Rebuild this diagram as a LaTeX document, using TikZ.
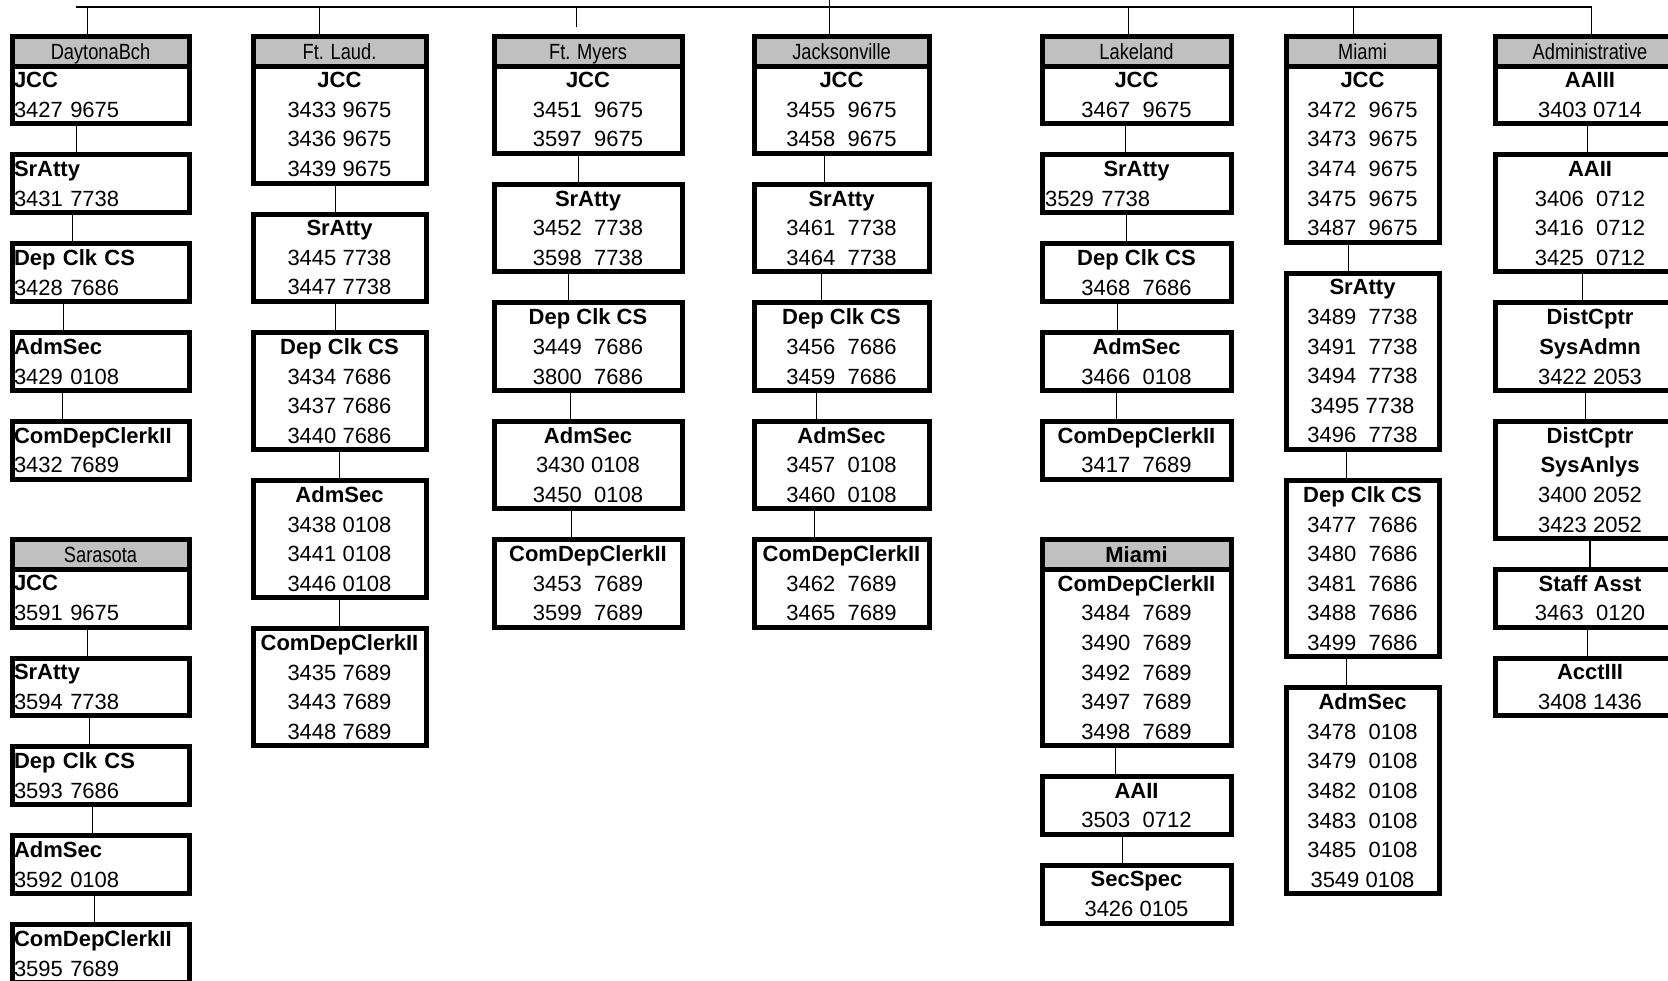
\documentclass[tikz,border=0pt]{standalone}
\usepackage{fontspec}
\setmainfont{Liberation Sans}
\newfontfamily\narrowfont{Liberation Sans}[FakeStretch=0.83]
\usetikzlibrary{positioning,calc}
\definecolor{headgray}{HTML}{C0C0C0}

\begin{document}
\begin{tikzpicture}[
  x=0.5pt, y=-0.5pt,
  font=\fontsize{11pt}{14.8pt}\selectfont,
  cell/.style={draw=black, line width=2.5pt, fill=white, anchor=north west, inner sep=0pt, align=center},
  cellL/.style={cell, inner xsep=1pt, text width=86.5pt, align=left},
  head/.style={draw=black, line width=2.5pt, fill=headgray, anchor=north west, inner sep=0pt,
    minimum height=14.8pt, text height=7.9pt, text depth=0pt,
    font=\narrowfont\fontsize{11pt}{14.8pt}\selectfont},
  headB/.style={head, font=\fontsize{11pt}{14.8pt}\selectfont\bfseries},
  nrows/.style={minimum height={14.8pt*#1-0.75pt}},
  link/.style={draw=black, line width=0.6pt},
  wDay/.style={minimum width=88.5pt},
  wLau/.style={minimum width=86.5pt},
  wMye/.style={minimum width=94pt},
  wJax/.style={minimum width=87.5pt},
  wLak/.style={minimum width=94.5pt},
  wMia/.style={minimum width=76.5pt},
  wAdm/.style={minimum width=95pt},
]
\useasboundingbox (0,0) rectangle (1668,980);
\clip (0,0) rectangle (1668,980);

% DaytonaBch and Sarasota (left aligned)
\node[head, wDay] (hDay) at (9.5,34) {DaytonaBch};
\node[cellL, nrows=2] (dayJcc) at (9.5,63.6) {\textbf{JCC}\\3427 9675};
\node[cellL, nrows=2] (daySr) at (9.5,152.4) {\textbf{SrAtty}\\3431 7738};
\node[cellL, nrows=2] (dayDep) at (9.5,241.2) {\textbf{Dep Clk CS}\\3428 7686};
\node[cellL, nrows=2] (dayAdm) at (9.5,330) {\textbf{AdmSec}\\3429 0108};
\node[cellL, nrows=2] (dayCom) at (9.5,418.8) {\textbf{ComDepClerkII}\\3432 7689};
\node[head, wDay] (hSar) at (9.5,537.2) {Sarasota};
\node[cellL, nrows=2] (sarJcc) at (9.5,566.8) {\textbf{JCC}\\3591 9675};
\node[cellL, nrows=2] (sarSr) at (9.5,655.6) {\textbf{SrAtty}\\3594 7738};
\node[cellL, nrows=2] (sarDep) at (9.5,744.4) {\textbf{Dep Clk CS}\\3593 7686};
\node[cellL, nrows=2] (sarAdm) at (9.5,833.2) {\textbf{AdmSec}\\3592 0108};
\node[cellL, nrows=2] (sarCom) at (9.5,922) {\textbf{ComDepClerkII}\\3595 7689};

% Ft. Laud.
\node[head, wLau] (hLau) at (250.5,34) {Ft. Laud.};
\node[cell, wLau, nrows=4] (lauJcc) at (250.5,63.6) {\textbf{JCC}\\3433 9675\\3436 9675\\3439 9675};
\node[cell, wLau, nrows=3] (lauSr) at (250.5,211.6) {\textbf{SrAtty}\\3445 7738\\3447 7738};
\node[cell, wLau, nrows=4] (lauDep) at (250.5,330) {\textbf{Dep Clk CS}\\3434 7686\\3437 7686\\3440 7686};
\node[cell, wLau, nrows=4] (lauAdm) at (250.5,478) {\textbf{AdmSec}\\3438 0108\\3441 0108\\3446 0108};
\node[cell, wLau, nrows=4] (lauCom) at (250.5,626) {\textbf{ComDepClerkII}\\3435 7689\\3443 7689\\3448 7689};

% Ft. Myers
\node[head, wMye] (hMye) at (491.5,34) {Ft. Myers};
\node[cell, wMye, nrows=3] (myeJcc) at (491.5,63.6) {\textbf{JCC}\\3451~~9675\\3597~~9675};
\node[cell, wMye, nrows=3] (myeSr) at (491.5,182) {\textbf{SrAtty}\\3452~~7738\\3598~~7738};
\node[cell, wMye, nrows=3] (myeDep) at (491.5,300.4) {\textbf{Dep Clk CS}\\3449~~7686\\3800~~7686};
\node[cell, wMye, nrows=3] (myeAdm) at (491.5,418.8) {\textbf{AdmSec}\\3430 0108\\3450~~0108};
\node[cell, wMye, nrows=3] (myeCom) at (491.5,537.2) {\textbf{ComDepClerkII}\\3453~~7689\\3599~~7689};

% Jacksonville
\node[head, wJax] (hJax) at (751.5,34) {Jacksonville};
\node[cell, wJax, nrows=3] (jaxJcc) at (751.5,63.6) {\textbf{JCC}\\3455~~9675\\3458~~9675};
\node[cell, wJax, nrows=3] (jaxSr) at (751.5,182) {\textbf{SrAtty}\\3461~~7738\\3464~~7738};
\node[cell, wJax, nrows=3] (jaxDep) at (751.5,300.4) {\textbf{Dep Clk CS}\\3456~~7686\\3459~~7686};
\node[cell, wJax, nrows=3] (jaxAdm) at (751.5,418.8) {\textbf{AdmSec}\\3457~~0108\\3460~~0108};
\node[cell, wJax, nrows=3] (jaxCom) at (751.5,537.2) {\textbf{ComDepClerkII}\\3462~~7689\\3465~~7689};

% Lakeland, with the Miami clerks below
\node[head, wLak] (hLak) at (1039.5,34) {Lakeland};
\node[cell, wLak, nrows=2] (lakJcc) at (1039.5,63.6) {\textbf{JCC}\\3467~~9675};
\node[cell, wLak, nrows=2, inner xsep=1.5pt, text width=91.5pt] (lakSr) at (1039.5,152.4)
  {\textbf{SrAtty}\\\makebox[91.5pt][l]{3529 7738}};
\node[cell, wLak, nrows=2] (lakDep) at (1039.5,241.2) {\textbf{Dep Clk CS}\\3468~~7686};
\node[cell, wLak, nrows=2] (lakAdm) at (1039.5,330) {\textbf{AdmSec}\\3466~~0108};
\node[cell, wLak, nrows=2] (lakCom) at (1039.5,418.8) {\textbf{ComDepClerkII}\\3417~~7689};
\node[headB, wLak] (hLkm) at (1039.5,537.2) {Miami};
\node[cell, wLak, nrows=6] (lkmCom) at (1039.5,566.8)
  {\textbf{ComDepClerkII}\\3484~~7689\\3490~~7689\\3492~~7689\\3497~~7689\\3498~~7689};
\node[cell, wLak, nrows=2] (lkmAa) at (1039.5,774) {\textbf{AAII}\\3503~~0712};
\node[cell, wLak, nrows=2] (lkmSec) at (1039.5,862.8) {\textbf{SecSpec}\\3426 0105};

% Miami
\node[head, wMia] (hMia) at (1283.5,34) {Miami};
\node[cell, wMia, nrows=6] (miaJcc) at (1283.5,63.6)
  {\textbf{JCC}\\3472~~9675\\3473~~9675\\3474~~9675\\3475~~9675\\3487~~9675};
\node[cell, wMia, nrows=6] (miaSr) at (1283.5,270.8)
  {\textbf{SrAtty}\\3489~~7738\\3491~~7738\\3494~~7738\\3495 7738\\3496~~7738};
\node[cell, wMia, nrows=6] (miaDep) at (1283.5,478)
  {\textbf{Dep Clk CS}\\3477~~7686\\3480~~7686\\3481~~7686\\3488~~7686\\3499~~7686};
\node[cell, wMia, nrows=7] (miaAdm) at (1283.5,685.2)
  {\textbf{AdmSec}\\3478~~0108\\3479~~0108\\3482~~0108\\3483~~0108\\3485~~0108\\3549 0108};

% Administrative
\node[head, wAdm] (hAdm) at (1492.5,34) {Administrative};
\node[cell, wAdm, nrows=2] (admA3) at (1492.5,63.6) {\textbf{AAIII}\\3403 0714};
\node[cell, wAdm, nrows=4] (admA2) at (1492.5,152.4) {\textbf{AAII}\\3406~~0712\\3416~~0712\\3425~~0712};
\node[cell, wAdm, nrows=3] (admSys) at (1492.5,300.4) {\textbf{DistCptr}\\\textbf{SysAdmn}\\3422 2053};
\node[cell, wAdm, nrows=4] (admAnl) at (1492.5,418.8) {\textbf{DistCptr}\\\textbf{SysAnlys}\\3400 2052\\3423 2052};
\node[cell, wAdm, nrows=2] (admStf) at (1492.5,566.8) {\textbf{Staff Asst}\\3463~~0120};
\node[cell, wAdm, nrows=2] (admAcc) at (1492.5,655.6) {\textbf{AcctIII}\\3408 1436};

% top bus
\coordinate (busL) at (76,7);
\coordinate (busR) at (1592,7);
\coordinate (rootUp) at (827,-4);
\draw[link] (busL) -- (busR);
\foreach \h/\dx in {hDay/-6.5pt, hLau/-10pt, hLak/-4pt, hMia/-4.5pt, hAdm/0.75pt}
  \draw[link] ($(\h.north |- busL)+(\dx,0)$) -- ($(\h.north)+(\dx,0)$);
\draw[link, shorten >=3.5pt] ($(hMye.north |- busL)+(-5.75pt,0)$) -- ($(hMye.north)+(-5.75pt,0)$);
\draw[link] ($(hJax.north |- rootUp)+(-6pt,0)$) -- ($(hJax.north)+(-6pt,0)$);

% links down each column
\foreach \a/\b/\dx in {dayJcc/daySr/-12pt, daySr/dayDep/-14pt, dayDep/dayAdm/-18.5pt, dayAdm/dayCom/-19pt,
    sarJcc/sarSr/-6.5pt, sarSr/sarDep/-5.5pt, sarDep/sarAdm/-4pt, sarAdm/sarCom/-3pt,
    lauJcc/lauSr/-2pt, lauSr/lauDep/-2pt, lauDep/lauAdm/0pt, lauAdm/lauCom/0pt,
    myeJcc/myeSr/-4.75pt, myeSr/myeDep/-9.75pt, myeDep/myeAdm/-8.75pt, myeAdm/myeCom/-8.25pt,
    jaxJcc/jaxSr/-8.5pt, jaxSr/jaxDep/-10pt, jaxDep/jaxAdm/-12.5pt, jaxAdm/jaxCom/-13.5pt,
    lakJcc/lakSr/-5.5pt, lakSr/lakDep/-5pt, lakDep/lakAdm/-9.5pt, lakAdm/lakCom/-10pt,
    lkmCom/lkmAa/-10.5pt, lkmAa/lkmSec/-7pt,
    miaJcc/miaSr/-7pt, miaSr/miaDep/-8pt, miaDep/miaAdm/-8pt,
    admA3/admA2/-1.25pt, admA2/admSys/-3.75pt, admSys/admAnl/-2.25pt, admAnl/admStf/0pt, admStf/admAcc/-1.25pt}
  \draw[link] ($(\a.south)+(\dx,0)$) -- ($(\b.north)+(\dx,0)$);
\end{tikzpicture}
\end{document}
